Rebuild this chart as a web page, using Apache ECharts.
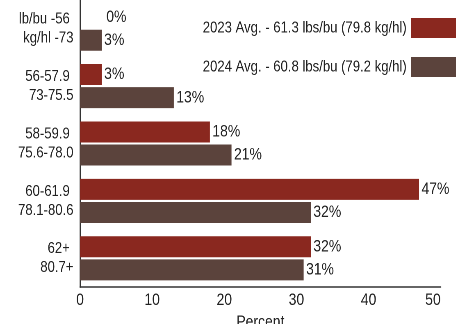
<!DOCTYPE html>
<html>
<head>
<meta charset="utf-8">
<script src="https://cdn.jsdelivr.net/npm/echarts@6/dist/echarts.min.js"></script>
<style>
  html, body { margin: 0; padding: 0; background: #fff; width: 471px; height: 324px; overflow: hidden; }
  /* the chart is laid out wide and condensed horizontally, giving narrow lettering */
  #chart { width: 574px; height: 324px; transform: scaleX(0.82); transform-origin: 0 0; }
</style>
</head>
<body>
<div id="chart"></div>
<script>
// Test weight classes (lbs/bu over kg/hl)
const categories = [
  'lb/bu -56 \nkg/hl -73',
  '56-57.9 \n73-75.5',
  '58-59.9 \n75.6-78.0',
  '60-61.9 \n78.1-80.6',
  '62+ \n80.7+'
];
const seriesNames = [
  '2023 Avg. - 61.3 lbs/bu (79.8 kg/hl)',
  '2024 Avg. - 60.8 lbs/bu (79.2 kg/hl)'
];
const values2023 = [0, 3, 18, 47, 32];
const values2024 = [3, 13, 21, 32, 31];
const xTicks = [0, 10, 20, 30, 40, 50];

const colors = ['#8a281f', '#5b433c'];
const font = '"Liberation Sans", Arial, sans-serif';
const textColor = '#222';

function toData(arr) {
  // a zero-length bar keeps its label clear of the axis line
  return arr.map(v => v === 0
    ? { value: v, label: { offset: [29, 0] } }
    : v);
}

function barSeries(name, values, color) {
  return {
    name: name,
    type: 'bar',
    data: toData(values),
    barWidth: 21,
    barGap: '10%',
    itemStyle: { color: color },
    label: {
      show: true, position: 'right', distance: 3,
      formatter: '{c}%', fontSize: 17, color: textColor, fontFamily: font
    }
  };
}

const chart = echarts.init(document.getElementById('chart'), null, { renderer: 'canvas', devicePixelRatio: 2 });
chart.setOption({
  animation: false,
  textStyle: { fontFamily: font },
  grid: { left: 97.6, right: 36.6, top: 0, bottom: 37, containLabel: false, outerBoundsMode: 'none' },
  legend: {
    orient: 'vertical',
    right: 13,
    top: 13,
    align: 'right',
    itemWidth: 55,
    itemHeight: 20,
    itemGap: 19,
    icon: 'rect',
    textStyle: { fontSize: 16, color: textColor, fontFamily: font },
    data: seriesNames
  },
  xAxis: {
    type: 'value',
    min: xTicks[0],
    max: xTicks[xTicks.length - 1],
    interval: 10,
    name: 'Percent',
    nameLocation: 'middle',
    nameGap: 21,
    nameTextStyle: { fontSize: 17, color: textColor, fontFamily: font },
    axisLine: { show: true, lineStyle: { color: '#333', width: 1.5 } },
    axisTick: { show: false },
    axisLabel: { fontSize: 17, color: textColor, margin: 5, fontFamily: font, alignMaxLabel: 'right' },
    splitLine: { show: false }
  },
  yAxis: {
    type: 'category',
    inverse: true,
    data: categories,
    axisLine: { show: true, lineStyle: { color: '#333', width: 1.8 } },
    axisTick: { show: false },
    axisLabel: { fontSize: 16, color: textColor, margin: 8, lineHeight: 19, fontFamily: font }
  },
  series: [
    barSeries(seriesNames[0], values2023, colors[0]),
    barSeries(seriesNames[1], values2024, colors[1])
  ]
});
</script>
</body>
</html>
